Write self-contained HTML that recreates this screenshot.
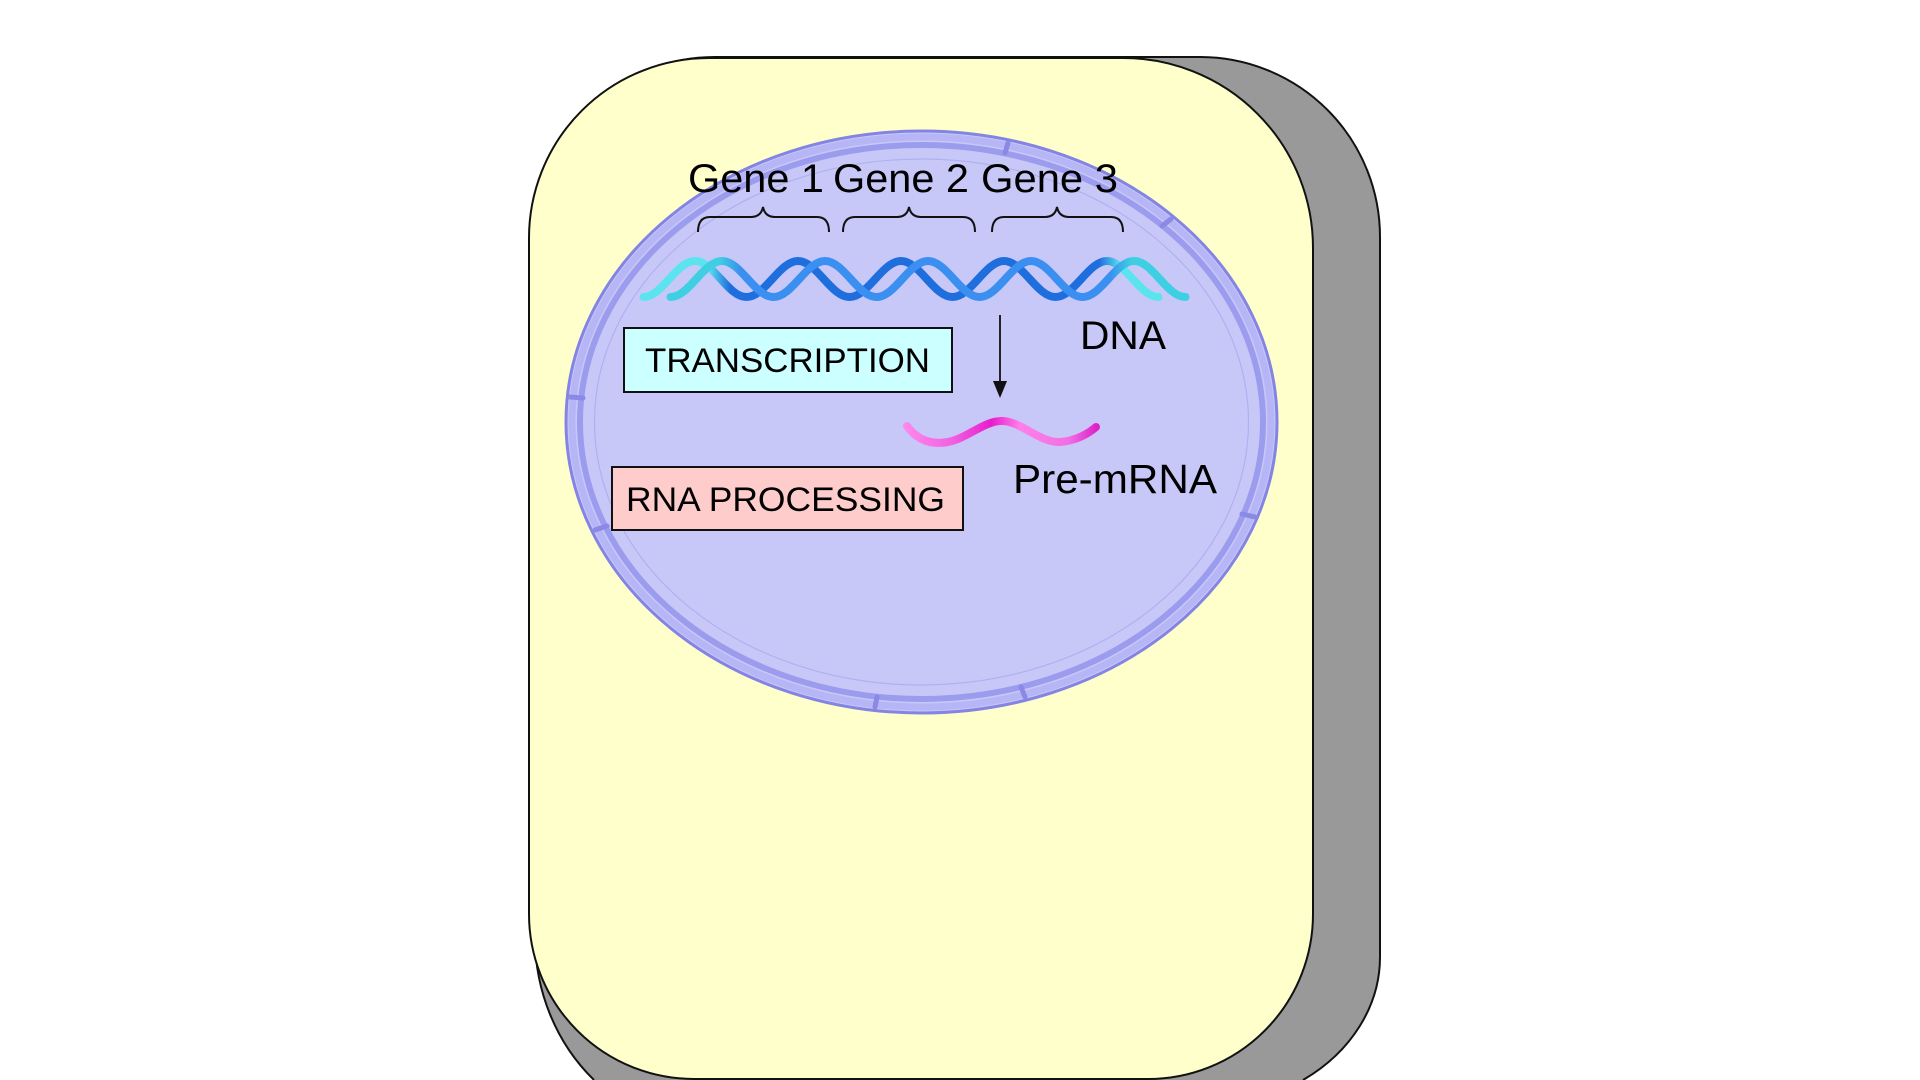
<!DOCTYPE html>
<html>
<head>
<meta charset="utf-8">
<style>
  html,body{margin:0;padding:0;background:#ffffff;}
  body{width:1920px;height:1080px;overflow:hidden;}
  svg{display:block;}
  text{font-family:"Liberation Sans", Arial, sans-serif;fill:#000;}
</style>
</head>
<body>
<svg width="1920" height="1080" viewBox="0 0 1920 1080" xmlns="http://www.w3.org/2000/svg">
  <defs>
    <linearGradient id="gA" gradientUnits="userSpaceOnUse" x1="643" y1="0" x2="1186" y2="0">
      <stop offset="0" stop-color="#5ce4ee"/>
      <stop offset="0.12" stop-color="#5ce4ee"/>
      <stop offset="0.16" stop-color="#1f6ede"/>
      <stop offset="0.84" stop-color="#1f6ede"/>
      <stop offset="0.88" stop-color="#5ce4ee"/>
      <stop offset="1" stop-color="#5ce4ee"/>
    </linearGradient>
    <linearGradient id="gB" gradientUnits="userSpaceOnUse" x1="643" y1="0" x2="1186" y2="0">
      <stop offset="0" stop-color="#3ed0e2"/>
      <stop offset="0.14" stop-color="#3ed0e2"/>
      <stop offset="0.18" stop-color="#3a8ff0"/>
      <stop offset="0.86" stop-color="#3a8ff0"/>
      <stop offset="0.90" stop-color="#3ed0e2"/>
      <stop offset="1" stop-color="#3ed0e2"/>
    </linearGradient>
    <linearGradient id="gR" gradientUnits="userSpaceOnUse" x1="905" y1="0" x2="1097" y2="0">
      <stop offset="0" stop-color="#ff88ec"/>
      <stop offset="0.25" stop-color="#f060e0"/>
      <stop offset="0.45" stop-color="#e81ccc"/>
      <stop offset="0.6" stop-color="#ff80e8"/>
      <stop offset="0.85" stop-color="#f070e4"/>
      <stop offset="1" stop-color="#e020c8"/>
    </linearGradient>
  </defs>

  <!-- shadow of cell -->
  <path d="M715,57 L1200,57 A180,180 0 0 1 1380,237 L1380,957 A180,150 0 0 1 1303,1080 L594,1080 A180,193 0 0 1 535,937 L535,237 A180,180 0 0 1 715,57 Z"
        fill="#999999" stroke="none"/>
  <path d="M594,1080 A180,193 0 0 1 535,937 L535,237 A180,180 0 0 1 715,57 L1200,57 A180,180 0 0 1 1380,237 L1380,957 A180,150 0 0 1 1303,1080"
        fill="none" stroke="#111" stroke-width="2"/>

  <!-- cell front -->
  <path d="M709,58 L1123,58 A190,190 0 0 1 1313,248 L1313,914 A165,165 0 0 1 1148,1079 L694,1079 A165,165 0 0 1 529,914 L529,238 A180,180 0 0 1 709,58 Z"
        fill="#ffffcc" stroke="#111" stroke-width="2"/>

  <!-- nucleus -->
  <ellipse cx="921.5" cy="422" rx="355.5" ry="291" fill="#c8c8f8" stroke="#8484e4" stroke-width="3"/>
  <ellipse cx="921.5" cy="422" rx="349.5" ry="285" fill="none" stroke="#b6b6f6" stroke-width="7"/>
  <ellipse cx="921.5" cy="422" rx="341.5" ry="277" fill="none" stroke="#9c9cee" stroke-width="6"/>
  <ellipse cx="921.5" cy="422" rx="327" ry="263" fill="none" stroke="#b0b0f2" stroke-width="1.2"/>
  <!-- pores -->
  <g stroke="#8a8ae6" stroke-width="5" stroke-linecap="round">
    <line x1="1008" y1="143" x2="1005" y2="153"/>
    <line x1="1171" y1="219" x2="1162" y2="226"/>
    <line x1="570" y1="397" x2="583" y2="398"/>
    <line x1="595" y1="530" x2="607" y2="526"/>
    <line x1="875" y1="707" x2="877" y2="697"/>
    <line x1="1025" y1="697" x2="1021" y2="687"/>
    <line x1="1255" y1="517" x2="1242" y2="514"/>
  </g>

  <!-- Gene labels -->
  <text x="688" y="192" font-size="40" textLength="136" lengthAdjust="spacingAndGlyphs">Gene 1</text>
  <text x="833" y="192" font-size="40" textLength="136" lengthAdjust="spacingAndGlyphs">Gene 2</text>
  <text x="981" y="192" font-size="40" textLength="137" lengthAdjust="spacingAndGlyphs">Gene 3</text>

  <!-- braces -->
  <g fill="none" stroke="#111" stroke-width="2">
    <path d="M698,232 Q698,217 710,217 L751,217 Q761,217 763,207 Q765,217 775,217 L817,217 Q829,217 829,232"/>
    <path d="M843,232 Q843,217 855,217 L897,217 Q907,217 909,207 Q911,217 921,217 L963,217 Q975,217 975,232"/>
    <path d="M992,232 Q992,217 1004,217 L1045,217 Q1055,217 1057,207 Q1059,217 1069,217 L1111,217 Q1123,217 1123,232"/>
  </g>

  <!-- DNA double helix -->
  <path fill="none" stroke="url(#gA)" stroke-width="8" stroke-linecap="round"
        d="M643.5,297 C662.26,297 676.24,261 695,261 S727.74,297 746.5,297 S779.24,261 798,261 S830.74,297 849.5,297 S882.24,261 901,261 S933.74,297 952.5,297 S985.24,261 1004,261 S1036.74,297 1055.5,297 S1088.24,261 1107,261 S1139.74,297 1158.5,297"/>
  <path fill="none" stroke="url(#gB)" stroke-width="8" stroke-linecap="round"
        d="M670.5,297 C689.26,297 703.24,261 722,261 S754.74,297 773.5,297 S806.24,261 825,261 S857.74,297 876.5,297 S909.24,261 928,261 S960.74,297 979.5,297 S1012.24,261 1031,261 S1063.74,297 1082.5,297 S1115.24,261 1134,261 S1166.74,297 1185.5,297"/>

  <text x="1080" y="349" font-size="40" textLength="86" lengthAdjust="spacingAndGlyphs">DNA</text>

  <!-- TRANSCRIPTION box -->
  <rect x="624" y="328" width="328" height="64" fill="#ccffff" stroke="#111" stroke-width="2"/>
  <text x="645" y="372" font-size="34" textLength="285" lengthAdjust="spacingAndGlyphs">TRANSCRIPTION</text>

  <!-- arrow -->
  <line x1="1000" y1="315" x2="1000" y2="386" stroke="#222" stroke-width="2"/>
  <polygon points="993,381 1007,381 1000,398" fill="#111"/>

  <!-- pre-mRNA ribbon -->
  <path fill="none" stroke="url(#gR)" stroke-width="8" stroke-linecap="round"
        d="M907,426 C917,440 931,445 948,442 C968,438 985,420 1003,421 C1022,422 1040,443 1060,442 C1075,441 1088,434 1096,427"/>

  <text x="1013" y="493" font-size="41" textLength="204" lengthAdjust="spacingAndGlyphs">Pre-mRNA</text>

  <!-- RNA PROCESSING box -->
  <rect x="612" y="467" width="351" height="63" fill="#ffcccc" stroke="#111" stroke-width="2"/>
  <text x="626" y="511" font-size="34" textLength="319" lengthAdjust="spacingAndGlyphs">RNA PROCESSING</text>
</svg>
</body>
</html>
